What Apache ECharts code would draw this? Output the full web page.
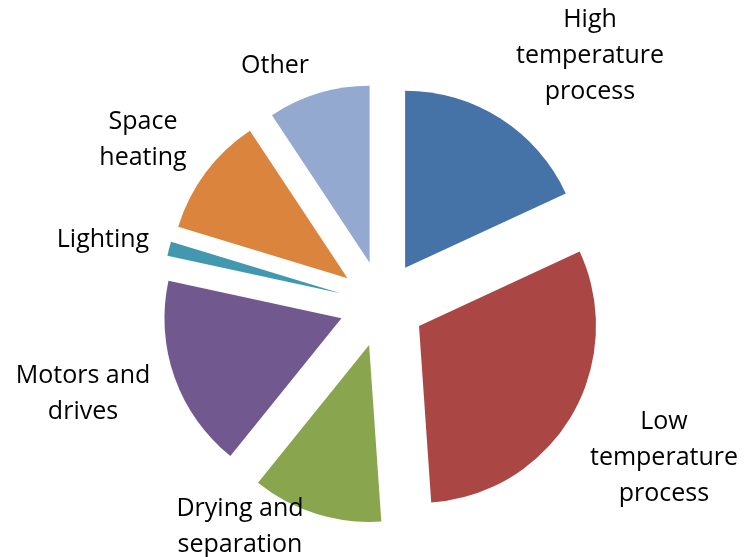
<!DOCTYPE html>
<html>
<head>
<meta charset="utf-8">
<script src="https://cdn.jsdelivr.net/npm/echarts@6/dist/echarts.min.js"></script>
<style>
  html, body { margin: 0; padding: 0; background: #fff; }
  #chart { width: 744px; height: 557px; }
</style>
</head>
<body>
<div id="chart"></div>
<script>
// Manufacturing energy end uses (share, %)
const categories = [
  'High\ntemperature\nprocess',
  'Low\ntemperature\nprocess',
  'Drying and\nseparation',
  'Motors and\ndrives',
  'Lighting',
  'Space\nheating',
  'Other'
];
const shares = [18.1, 30.8, 11.9, 17.6, 1.3, 11.0, 9.3];
const colors = ['#4572A7', '#AA4643', '#89A54E', '#71588F', '#4198AF', '#DB843D', '#93A9CF'];

// Label anchor points (centre of each text block)
const labelAnchors = [
  [590, 56], [664, 458], [240, 527], [83, 394], [103, 240], [143, 140], [275, 66]
];

const pieCenter = [382, 304];
const pieRadius = 177;

const chart = echarts.init(document.getElementById('chart'));
chart.setOption({
  animation: false,
  series: [
    {
      // exploded slices
      type: 'pie',
      center: pieCenter,
      radius: pieRadius,
      startAngle: 90,
      clockwise: true,
      selectedMode: 'multiple',
      selectedOffset: 43,
      label: { show: false },
      labelLine: { show: false },
      emphasis: { disabled: true },
      itemStyle: { borderWidth: 0 },
      data: categories.map((name, i) => ({
        name: name,
        value: shares[i],
        selected: true,
        itemStyle: { color: colors[i] }
      }))
    },
    {
      // category labels around the pie
      type: 'pie',
      center: pieCenter,
      radius: pieRadius,
      startAngle: 90,
      clockwise: true,
      silent: true,
      z: 3,
      avoidLabelOverlap: false,
      itemStyle: { color: 'rgba(0,0,0,0)', borderWidth: 0 },
      label: {
        show: true,
        position: 'outside',
        formatter: '{b}',
        fontFamily: 'Open Sans',
        fontSize: 25,
        lineHeight: 36,
        color: '#000',
        align: 'center'
      },
      labelLine: { show: false },
      labelLayout: function (params) {
        const p = labelAnchors[params.dataIndex];
        return { x: p[0], y: p[1], align: 'center', verticalAlign: 'middle' };
      },
      emphasis: { disabled: true },
      data: categories.map((name, i) => ({ name: name, value: shares[i] }))
    }
  ]
});
</script>
</body>
</html>
